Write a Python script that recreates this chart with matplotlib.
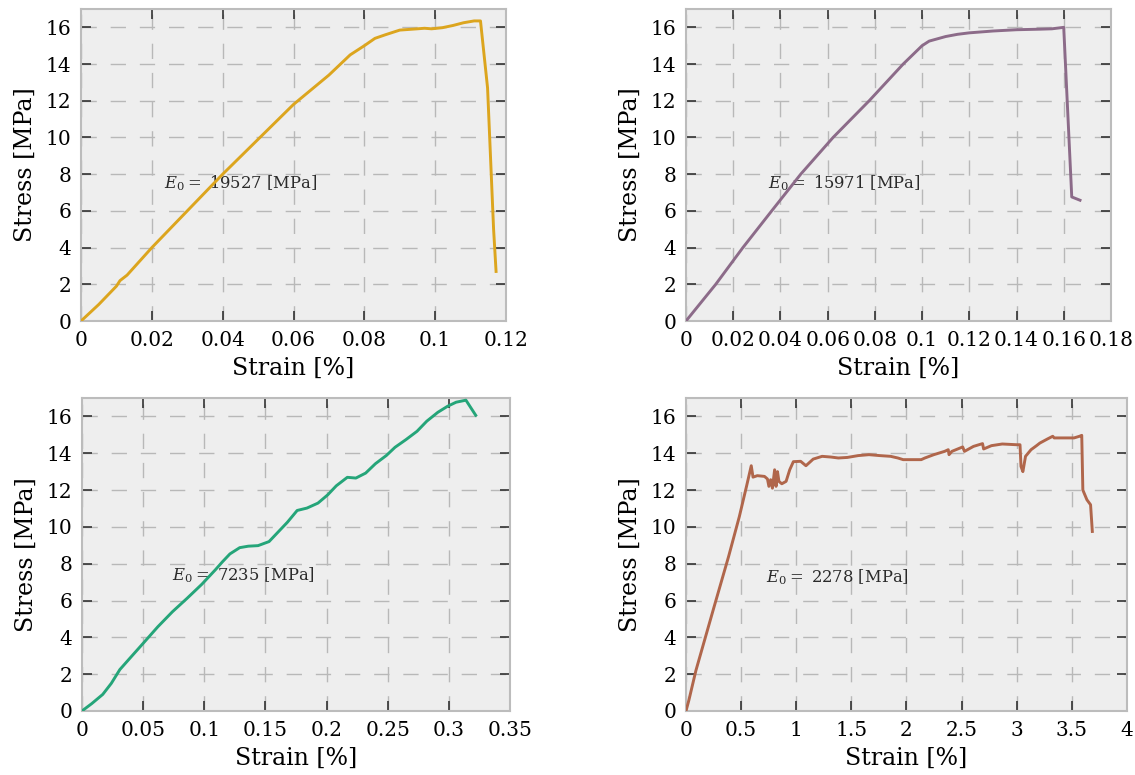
import matplotlib
matplotlib.use('Agg')
import matplotlib.pyplot as plt
from matplotlib.ticker import FuncFormatter, MultipleLocator

# strain [%] / stress [MPa]
strain_a = [0, 0.005, 0.01, 0.011, 0.013, 0.02, 0.04, 0.06, 0.07, 0.076, 0.08, 0.083, 0.086,
            0.09, 0.095, 0.097, 0.099, 0.102, 0.105, 0.108, 0.111, 0.1128, 0.1148, 0.1165, 0.1172]
stress_a = [0, 0.9, 1.9, 2.2, 2.5, 4.0, 8.0, 11.8, 13.4, 14.5, 15.0, 15.4, 15.6,
            15.85, 15.92, 15.95, 15.92, 15.98, 16.1, 16.25, 16.35, 16.35, 12.7, 5.0, 2.7]

strain_b = [0, 0.0126, 0.0241, 0.0363, 0.0486, 0.0623, 0.0776, 0.092, 0.096, 0.1, 0.103,
            0.11, 0.115, 0.12, 0.13, 0.14, 0.15, 0.155, 0.16, 0.1634, 0.1669]
stress_b = [0, 2.0, 4.0, 6.0, 8.0, 10.0, 12.0, 14.0, 14.5, 15.0, 15.25,
            15.5, 15.62, 15.7, 15.8, 15.87, 15.9, 15.92, 16.0, 6.76, 6.58]

strain_c = [0, 0.008, 0.017, 0.024, 0.031, 0.039, 0.05, 0.062, 0.074, 0.086, 0.098, 0.109,
            0.115, 0.121, 0.129, 0.136, 0.144, 0.153, 0.159, 0.168, 0.176, 0.184, 0.193,
            0.201, 0.208, 0.217, 0.224, 0.232, 0.240, 0.249, 0.256, 0.265, 0.274, 0.282,
            0.291, 0.299, 0.306, 0.314, 0.322]
stress_c = [0, 0.4, 0.9, 1.5, 2.25, 2.85, 3.67, 4.57, 5.39, 6.12, 6.88, 7.66,
            8.11, 8.53, 8.87, 8.95, 8.98, 9.2, 9.62, 10.25, 10.89, 11.02, 11.29,
            11.74, 12.23, 12.69, 12.65, 12.92, 13.43, 13.88, 14.32, 14.74, 15.19, 15.74,
            16.22, 16.55, 16.77, 16.88, 16.06]

strain_d = [0, 0.026, 0.09, 0.255, 0.386, 0.484, 0.549, 0.592, 0.608, 0.647, 0.712, 0.739,
            0.752, 0.768, 0.784, 0.804, 0.817, 0.83, 0.843, 0.869, 0.908, 0.941, 0.974,
            1.04, 1.088, 1.154, 1.235, 1.317, 1.382, 1.464, 1.562, 1.66, 1.758, 1.856,
            1.922, 1.97, 2.052, 2.134, 2.167, 2.248, 2.346, 2.379, 2.386, 2.412, 2.51,
            2.526, 2.608, 2.69, 2.7, 2.771, 2.869, 3.0, 3.03, 3.039, 3.056, 3.08, 3.13,
            3.18, 3.21, 3.278, 3.327, 3.34, 3.425, 3.52, 3.57, 3.59, 3.60, 3.637, 3.67, 3.686]
stress_d = [0, 0.58, 2.2, 5.66, 8.38, 10.56, 12.2, 13.32, 12.7, 12.78, 12.74, 12.6,
            12.2, 12.56, 12.1, 13.1, 12.2, 13.0, 12.47, 12.34, 12.47, 13.1, 13.54,
            13.56, 13.32, 13.68, 13.83, 13.79, 13.74, 13.77, 13.87, 13.92, 13.87, 13.83,
            13.74, 13.65, 13.65, 13.65, 13.74, 13.92, 14.1, 14.19, 13.92, 14.1, 14.34,
            14.1, 14.37, 14.52, 14.23, 14.41, 14.5, 14.46, 14.46, 13.28, 13.0, 13.83, 14.19,
            14.41, 14.55, 14.77, 14.92, 14.83, 14.83, 14.83, 14.92, 14.97, 12.0, 11.47, 11.2, 9.75]

moduli = [19527, 15971, 7235, 2278]
x_limits = [0.12, 0.18, 0.35, 4]
x_steps = [0.02, 0.02, 0.05, 0.5]
colors = ['#dca51e', '#8c6b89', '#25a579', '#b0664b']

plt.rcParams['font.family'] = 'DejaVu Serif'
plt.rcParams['mathtext.fontset'] = 'dejavuserif'

fig = plt.figure(figsize=(11.35, 7.75), dpi=100)
boxes = [[0.0714, 0.5858, 0.3744, 0.4026],
         [0.6044, 0.5858, 0.3744, 0.4026],
         [0.0722, 0.0826, 0.3771, 0.4039],
         [0.6044, 0.0826, 0.3885, 0.4039]]
text_pos = [(0.195, 0.442), (0.193, 0.442), (0.21, 0.434), (0.181, 0.428)]

curves = [(strain_a, stress_a), (strain_b, stress_b), (strain_c, stress_c), (strain_d, stress_d)]

for i, (xs, ys) in enumerate(curves):
    ax = fig.add_axes(boxes[i])
    ax.set_facecolor('#eeeeee')
    ax.plot(xs, ys, color=colors[i], lw=2.1, zorder=4)
    ax.set_xlim(0, x_limits[i])
    ax.set_ylim(0, 17)
    ax.xaxis.set_major_locator(MultipleLocator(x_steps[i]))
    ax.yaxis.set_major_locator(MultipleLocator(2))
    ax.xaxis.set_major_formatter(FuncFormatter(lambda v, p: '%g' % round(v, 4)))
    ax.grid(True, color='#b8b8b8', lw=1, linestyle=(0, (11, 10)))
    ax.set_axisbelow(True)
    for s in ax.spines.values():
        s.set_color('#bcbcbc')
        s.set_linewidth(1.5)
    ax.tick_params(direction='in', length=7, width=1.2, color='#333333',
                   top=True, right=True, labelsize=14.5, pad=7)
    ax.set_xlabel('Strain [%]', fontsize=17, labelpad=5)
    ax.set_ylabel('Stress [MPa]', fontsize=17, labelpad=6)
    ax.text(text_pos[i][0], text_pos[i][1], '$E_0 =$ %d [MPa]' % moduli[i],
            transform=ax.transAxes, fontsize=11.8, color='#2a2a2a',
            ha='left', va='center', zorder=3)

fig.savefig('out.png', dpi=100)
